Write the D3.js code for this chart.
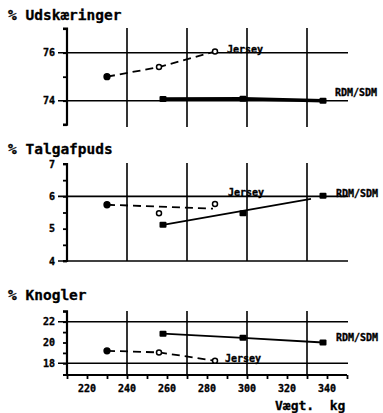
<!DOCTYPE html>
<html>
<head>
<meta charset="utf-8">
<script src="https://cdn.jsdelivr.net/npm/d3@7"></script>
<style>
  html, body { margin: 0; padding: 0; background: #fff; }
  svg { display: block; }
  .title { font-family: "DejaVu Sans Mono", monospace; font-weight: bold; font-size: 14.5px; fill: #000; stroke: #000; stroke-width: 0.3px; }
  .small { font-family: "DejaVu Sans Mono", monospace; font-weight: bold; font-size: 10px; fill: #000; stroke: #000; stroke-width: 0.35px; }
</style>
</head>
<body>
<script>
// ---- Data ----
const weightJersey = [230, 256, 284];
const weightRDM = [258, 298, 338];

const udskJersey = [75.0, 75.4, 76.05];
const udskRDM = [74.07, 74.08, 74.0];

const talgJersey = [5.74, 5.48, 5.76];
const talgRDM = [5.12, 5.48, 6.02];
const talgJerseyFit = [5.74, 5.62];   // dashed trend line at first/last Jersey weight
const talgRDMFit = [5.12, 5.92];      // solid trend line at first/last RDM weight

const knoglerJersey = [19.2, 19.05, 18.25];
const knoglerRDM = [20.85, 20.45, 20.0];

const xTickLabels = [220, 240, 260, 280, 300, 320, 340];
const xGrid = [240, 270, 300, 330];
const titles = ["% Udskæringer", "% Talgafpuds", "% Knogler"];
const seriesNames = ["Jersey", "RDM/SDM"];
const xAxisTitle = "Vægt.  kg";

// ---- Layout ----
const W = 383, H = 413;
const svg = d3.select("body").append("svg").attr("width", W).attr("height", H);
const x = d3.scaleLinear().domain([210, 350]).range([67, 347]);

const panels = [
  { title: titles[0], titleY: 20, domain: [73, 77], range: [124.7, 28.7], vTop: 28, vBot: 127,
    ticks: [73, 74, 75, 76, 77], labels: [74, 76], hlines: [74, 76],
    jersey: udskJersey, rdm: udskRDM, jFit: null, rFit: null, rdmWidth: 3.5,
    jLabel: [227, 53], rLabel: [335, 96] },
  { title: titles[1], titleY: 154, domain: [4, 7], range: [261, 164], vTop: 163, vBot: 261,
    ticks: d3.range(4, 7.01, 0.5), labels: [4, 5, 6, 7], hlines: [4, 6],
    jersey: talgJersey, rdm: talgRDM, jFit: talgJerseyFit, rFit: talgRDMFit, rdmWidth: 1.8,
    jLabel: [228, 196], rLabel: [336, 197] },
  { title: titles[2], titleY: 300, domain: [16.875, 23], range: [375, 311.3], vTop: 311, vBot: 376,
    ticks: [18, 19, 20, 21, 22, 23], labels: [18, 20, 22], hlines: [18, 22],
    jersey: knoglerJersey, rdm: knoglerRDM, jFit: null, rFit: null, rdmWidth: 1.8,
    jLabel: [225, 362], rLabel: [336, 341], xAxis: true }
];

panels.forEach(p => {
  const y = d3.scaleLinear().domain(p.domain).range(p.range);
  const g = svg.append("g");

  g.append("text").attr("class", "title").attr("x", 8).attr("y", p.titleY).text(p.title);

  // vertical grid
  xGrid.forEach(v => {
    g.append("line").attr("x1", x(v)).attr("x2", x(v)).attr("y1", p.vTop).attr("y2", p.vBot)
      .attr("stroke", "#000").attr("stroke-width", 1.6);
  });
  // horizontal grid lines
  p.hlines.forEach(v => {
    g.append("line").attr("x1", 58).attr("x2", 348).attr("y1", y(v)).attr("y2", y(v))
      .attr("stroke", "#000").attr("stroke-width", 1.6);
  });

  // y axis
  const yAxis = d3.axisLeft(y).tickValues(p.ticks).tickSize(4).tickFormat("");
  const ya = g.append("g").attr("transform", `translate(${x(210)},0)`).call(yAxis);
  ya.select(".domain").attr("stroke-width", 2.2).attr("d", `M-4,${p.range[1]}H0V${p.range[0]}H-4`);
  ya.selectAll(".tick line").attr("stroke-width", 1.8);
  p.labels.forEach(v => {
    g.append("text").attr("class", "small").attr("x", 55).attr("y", y(v) + 3.5)
      .attr("text-anchor", "end").text(v);
  });

  // x axis for bottom panel
  if (p.xAxis) {
    const xAxis = d3.axisBottom(x).tickValues(d3.range(210, 351, 10)).tickSize(4).tickFormat("");
    const xa = g.append("g").attr("transform", `translate(0,${y.range()[0]})`).call(xAxis);
    xa.select(".domain").attr("stroke-width", 2.2).attr("d", `M${x(210)},0H${x(350)}`);
    xa.selectAll(".tick line").attr("stroke-width", 1.8);
    xTickLabels.forEach(v => {
      g.append("text").attr("class", "small").attr("x", x(v)).attr("y", 392)
        .attr("text-anchor", "middle").text(v);
    });
  }

  // lines
  const line = d3.line().x(d => x(d[0])).y(d => y(d[1]));
  const jLineData = p.jFit ? [[weightJersey[0], p.jFit[0]], [weightJersey[2] - 1, p.jFit[1]]]
                           : weightJersey.map((w, i) => [w, p.jersey[i]]);
  const rLineData = p.rFit ? [[weightRDM[0], p.rFit[0]], [weightRDM[2] - 6, p.rFit[1]]]
                           : weightRDM.map((w, i) => [w, p.rdm[i]]);
  g.append("path").attr("d", line(jLineData)).attr("fill", "none").attr("stroke", "#000")
    .attr("stroke-width", 1.8).attr("stroke-dasharray", "8,5");
  g.append("path").attr("d", line(rLineData)).attr("fill", "none").attr("stroke", "#000")
    .attr("stroke-width", p.rdmWidth);

  // markers Jersey: first filled, others open
  weightJersey.forEach((w, i) => {
    g.append("circle").attr("cx", x(w)).attr("cy", y(p.jersey[i])).attr("r", i === 0 ? 2.9 : 2.5)
      .attr("fill", i === 0 ? "#000" : "#fff").attr("stroke", "#000").attr("stroke-width", 1.5);
  });
  // markers RDM: filled squares
  weightRDM.forEach((w, i) => {
    g.append("rect").attr("x", x(w) - 3.5).attr("y", y(p.rdm[i]) - 3).attr("width", 7).attr("height", 6)
      .attr("rx", 1).attr("fill", "#000");
  });

  g.append("text").attr("class", "small").attr("x", p.jLabel[0]).attr("y", p.jLabel[1]).text(seriesNames[0]);
  g.append("text").attr("class", "small").attr("x", p.rLabel[0]).attr("y", p.rLabel[1]).text(seriesNames[1]);
});

svg.append("text").attr("class", "title").attr("x", 275).attr("y", 410)
  .style("font-size", "13px").attr("xml:space", "preserve").style("white-space", "pre").text(xAxisTitle);
</script>
</body>
</html>
